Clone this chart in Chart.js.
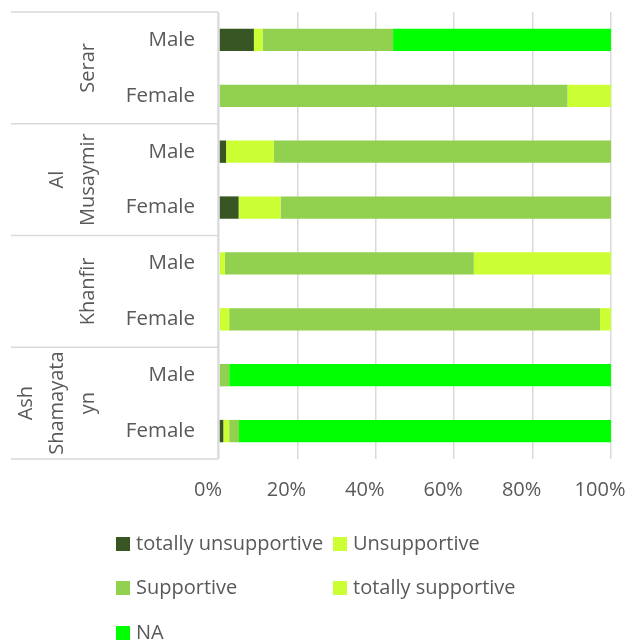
<!DOCTYPE html>
<html>
<head>
<meta charset="utf-8">
<script src="https://cdn.jsdelivr.net/npm/chart.js@4/dist/chart.umd.min.js"></script>
<style>
  html, body { margin: 0; padding: 0; background: #ffffff; }
  #wrap { width: 641px; height: 642px; position: relative; }
</style>
</head>
<body>
<div id="wrap"><canvas id="chart" width="641" height="642"></canvas></div>
<script>
// Rows from top to bottom: each village has a Male and a Female row
const categories = ['Male', 'Female', 'Male', 'Female', 'Male', 'Female', 'Male', 'Female'];
const villages = [['Serar'], ['Al', 'Musaymir'], ['Khanfir'], ['Ash', 'Shamayata', 'yn']];
const xTicks = [0, 20, 40, 60, 80, 100];

// Share of answers (%) per row
const totallyUnsupportive = [8.9, 0, 1.8, 5.0, 0, 0, 0, 1.1];
const unsupportive        = [2.2, 0, 12.2, 10.7, 1.5, 2.6, 0, 1.5];
const supportive          = [33.3, 88.9, 86.0, 84.3, 63.5, 94.6, 2.6, 2.5];
const totallySupportive   = [0, 11.1, 0, 0, 35.0, 2.8, 0, 0];
const notAnswered         = [55.6, 0, 0, 0, 0, 0, 97.4, 94.9];

const seriesNames = ['totally unsupportive', 'Unsupportive', 'Supportive', 'totally supportive', 'NA'];
const seriesColors = ['#375623', '#CCFF33', '#92D050', '#CCFF33', '#00FF00'];
const seriesValues = [totallyUnsupportive, unsupportive, supportive, totallySupportive, notAnswered];

const TEXT = '#595959';
const LINE = '#D9D9D9';
const FONT = "'Open Sans', 'DejaVu Sans', sans-serif";

// Village frames and rotated village names to the left of the row labels
const villageAxis = {
  id: 'villageAxis',
  afterDraw(chart) {
    const { ctx, chartArea, scales } = chart;
    const y = scales.y;
    const half = (y.getPixelForValue(1) - y.getPixelForValue(0)) / 2;
    const xLeft = 11, xRight = chartArea.left - 1;
    ctx.save();
    ctx.strokeStyle = LINE;
    ctx.lineWidth = 1.5;
    ctx.beginPath();
    ctx.moveTo(xRight, chartArea.top);
    ctx.lineTo(xRight, chartArea.bottom);
    for (let g = 0; g <= villages.length; g++) {
      const yy = g < villages.length ? y.getPixelForValue(g * 2) - half : y.getPixelForValue(categories.length - 1) + half;
      ctx.moveTo(xLeft, yy);
      ctx.lineTo(xRight, yy);
    }
    ctx.stroke();

    ctx.fillStyle = TEXT;
    ctx.font = '20px ' + FONT;
    ctx.textAlign = 'center';
    ctx.textBaseline = 'alphabetic';
    villages.forEach((lines, g) => {
      const cy = (y.getPixelForValue(g * 2) + y.getPixelForValue(g * 2 + 1)) / 2;
      lines.forEach((txt, k) => {
        const bx = 94 - 31 * (lines.length - 1 - k);
        ctx.save();
        ctx.translate(bx, cy);
        ctx.rotate(-Math.PI / 2);
        ctx.fillText(txt, 0, 0);
        ctx.restore();
      });
    });
    ctx.restore();
  }
};

// Two-column legend under the axis
const gridLegend = {
  id: 'gridLegend',
  afterDraw(chart) {
    const { ctx } = chart;
    const colX = [116, 333];
    const rowY = [537, 581, 626];
    ctx.save();
    ctx.font = '20px ' + FONT;
    ctx.textAlign = 'left';
    ctx.textBaseline = 'middle';
    chart.data.datasets.forEach((ds, i) => {
      const x = colX[i % 2];
      const top = rowY[Math.floor(i / 2)];
      ctx.fillStyle = ds.backgroundColor;
      ctx.fillRect(x, top, 14, 14);
      ctx.fillStyle = TEXT;
      ctx.fillText(ds.label, x + 20, top + 7);
    });
    ctx.restore();
  }
};

new Chart(document.getElementById('chart'), {
  type: 'bar',
  data: {
    labels: categories,
    datasets: seriesNames.map((name, i) => ({
      label: name,
      data: seriesValues[i],
      backgroundColor: seriesColors[i],
      borderWidth: 0,
      barPercentage: 0.4,
      categoryPercentage: 1
    }))
  },
  options: {
    indexAxis: 'y',
    responsive: false,
    devicePixelRatio: 1,
    animation: false,
    layout: { padding: { top: 12, right: 30, left: 0, bottom: 0 } },
    plugins: { legend: { display: false }, tooltip: { enabled: false } },
    scales: {
      x: {
        stacked: true,
        min: 0,
        max: 100,
        afterBuildTicks: s => { s.ticks = xTicks.map(v => ({ value: v })); },
        afterFit: s => { s.height = 183; s.paddingLeft = 0; s.paddingRight = 0; },
        grid: { color: LINE, lineWidth: 1.5, drawTicks: false },
        border: { display: false },
        ticks: {
          color: TEXT,
          font: { family: FONT, size: 20 },
          padding: 19,
          labelOffset: -11,
          maxRotation: 0,
          callback: v => v + '%'
        }
      },
      y: {
        stacked: true,
        afterFit: s => { s.width = 219; s.paddingTop = 0; s.paddingBottom = 0; },
        grid: { display: false },
        border: { display: false },
        ticks: {
          color: TEXT,
          font: { family: FONT, size: 20.5 },
          padding: 16
        }
      }
    }
  },
  plugins: [villageAxis, gridLegend]
});
</script>
</body>
</html>
